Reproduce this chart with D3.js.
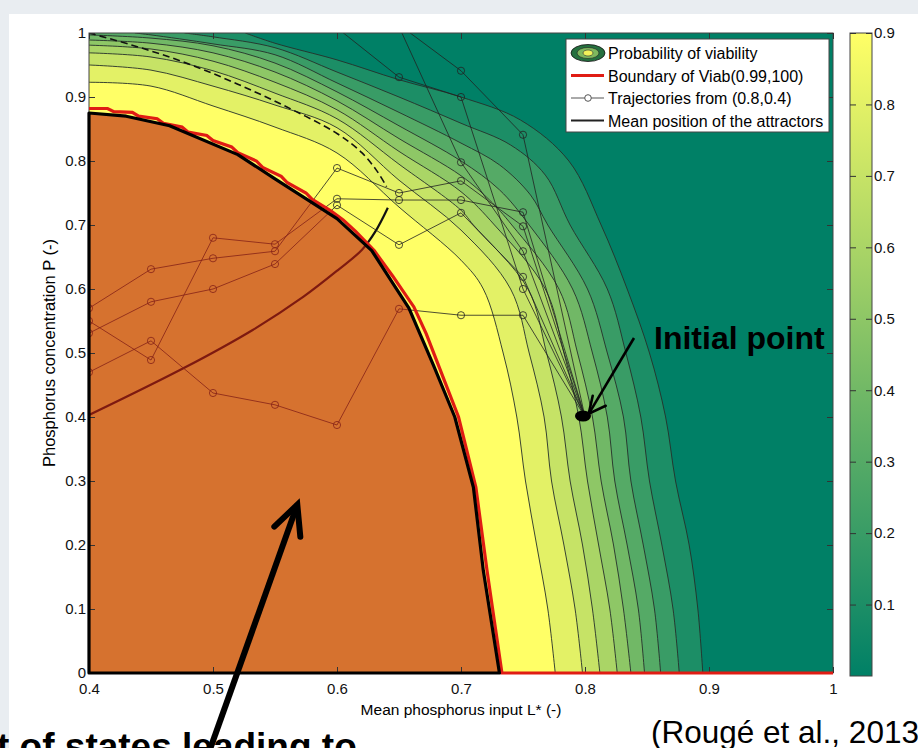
<!DOCTYPE html>
<html>
<head>
<meta charset="utf-8">
<script src="https://cdn.jsdelivr.net/npm/d3@7/dist/d3.min.js"></script>
<style>
  body { margin: 0; background: #ffffff; }
  svg text { font-family: "Liberation Sans", Arial, Helvetica, sans-serif; }
</style>
</head>
<body>
<div id="chart"></div>
<script>

// contour levels of the probability of viability and their lines, [L*, P]
var levels = [0.1, 0.2, 0.3, 0.4, 0.5, 0.6, 0.7, 0.8, 0.9];

var c10 = [[0.526,1],[0.55,0.984],[0.6,0.958],[0.65,0.927],[0.7,0.9],[0.748,0.864],[0.787,0.8],[0.813,0.7],[0.834,0.6],[0.852,0.5],[0.865,0.4],[0.873,0.3],[0.884,0.2],[0.891,0.1],[0.895,0]];
var c20 = [[0.477,1],[0.5,0.994],[0.55,0.977],[0.6,0.939],[0.65,0.90],[0.7,0.859],[0.74,0.825],[0.768,0.778],[0.788,0.7],[0.818,0.6],[0.833,0.5],[0.845,0.4],[0.852,0.3],[0.862,0.2],[0.871,0.1],[0.876,0]];
var c30 = [[0.437,1],[0.45,0.997],[0.5,0.983],[0.55,0.966],[0.6,0.922],[0.65,0.876],[0.7,0.828],[0.731,0.794],[0.756,0.747],[0.77,0.7],[0.802,0.6],[0.818,0.5],[0.831,0.4],[0.837,0.3],[0.847,0.2],[0.856,0.1],[0.861,0]];
var c40 = [[0.4,0.997],[0.45,0.992],[0.5,0.98],[0.55,0.953],[0.6,0.908],[0.65,0.855],[0.7,0.8],[0.731,0.755],[0.755,0.7],[0.79,0.6],[0.806,0.5],[0.818,0.4],[0.824,0.3],[0.834,0.2],[0.843,0.1],[0.848,0]];
var c50 = [[0.4,0.989],[0.45,0.984],[0.5,0.969],[0.55,0.939],[0.6,0.894],[0.65,0.835],[0.7,0.777],[0.723,0.739],[0.741,0.7],[0.779,0.6],[0.794,0.5],[0.806,0.4],[0.813,0.3],[0.823,0.2],[0.831,0.1],[0.837,0]];
var c60 = [[0.4,0.981],[0.45,0.975],[0.5,0.956],[0.55,0.923],[0.6,0.88],[0.65,0.815],[0.7,0.752],[0.727,0.7],[0.768,0.6],[0.783,0.5],[0.795,0.4],[0.802,0.3],[0.811,0.2],[0.82,0.1],[0.826,0]];
var c70 = [[0.4,0.969],[0.45,0.9625],[0.5,0.941],[0.55,0.906],[0.6,0.866],[0.65,0.795],[0.7,0.723],[0.71,0.7],[0.754,0.6],[0.769,0.5],[0.781,0.4],[0.788,0.3],[0.798,0.2],[0.806,0.1],[0.812,0]];
var c80 = [[0.4,0.95],[0.45,0.942],[0.5,0.917],[0.55,0.8875],[0.6,0.852],[0.65,0.77],[0.7,0.692],[0.74,0.6],[0.755,0.5],[0.767,0.4],[0.773,0.3],[0.783,0.2],[0.792,0.1],[0.798,0]];
var c90 = [[0.4,0.923],[0.45,0.917],[0.5,0.886],[0.55,0.853],[0.6,0.8125],[0.65,0.728],[0.7,0.645],[0.718,0.6],[0.734,0.5],[0.745,0.4],[0.752,0.3],[0.761,0.2],[0.77,0.1],[0.776,0]];
var contourLines = [c10, c20, c30, c40, c50, c60, c70, c80, c90];

// viability kernel (smoothed, black) and boundary of Viab(0.99,100) (red)
var kernel = [[0.4,0],[0.4,0.875],[0.43,0.870],[0.465,0.855],[0.52,0.81],[0.55,0.772],[0.60,0.71],[0.628,0.66],[0.658,0.57],[0.678,0.48],[0.695,0.40],[0.71,0.29],[0.718,0.16],[0.731,0]];
var viabBoundary = [[0.4,0.882],[0.415,0.882],[0.42,0.877],[0.435,0.876],[0.44,0.870],[0.455,0.866],[0.46,0.859],[0.475,0.853],[0.48,0.845],[0.495,0.840],[0.50,0.832],[0.515,0.822],[0.52,0.813],[0.535,0.800],[0.54,0.79],[0.555,0.776],[0.56,0.766],[0.575,0.750],[0.58,0.740],[0.595,0.722],[0.605,0.708],[0.615,0.69],[0.63,0.66],[0.645,0.62],[0.662,0.572],[0.672,0.53],[0.682,0.48],[0.698,0.40],[0.712,0.29],[0.721,0.16],[0.733,0],[1,0]];

var dashedLine = [[0.4,1.0],[0.44,0.978],[0.48,0.952],[0.52,0.92],[0.56,0.884],[0.60,0.843],[0.62,0.813],[0.632,0.785],[0.64,0.76]];
var meanAttractor = [[0.4,0.403],[0.478,0.478],[0.532,0.536],[0.573,0.588],[0.601,0.630],[0.620,0.661],[0.631,0.69],[0.641,0.727]];

// trajectories from the initial point, one P value per step of L*
var trajSteps = [0.8, 0.75, 0.7, 0.65, 0.6, 0.55, 0.5, 0.45, 0.4];
var traj1 = [0.4, 0.559, 0.559, 0.569, 0.3875, 0.419, 0.4375, 0.519, 0.47];
var traj2 = [0.4, 0.698, 0.769, 0.75, 0.789, 0.659, 0.648, 0.631, 0.57];
var traj3 = [0.4, 0.72, 0.739, 0.739, 0.741, 0.67, 0.68, 0.489, 0.55];
var traj4 = [0.4, 0.619, 0.719, 0.669, 0.731, 0.639, 0.6, 0.58, 0.531];
var traj5 = [0.4, 0.841, 0.941, 1.013];
var traj6 = [0.4, 0.6, 0.9, 0.931, 1.008];
var traj7 = [0.4, 0.659, 0.798, 1.01];
var trajectories = [traj1, traj2, traj3, traj4, traj5, traj6, traj7];
var initialPoint = [0.8, 0.4];

var xTicks = [0.4, 0.5, 0.6, 0.7, 0.8, 0.9, 1];
var yTicks = [0, 0.1, 0.2, 0.3, 0.4, 0.5, 0.6, 0.7, 0.8, 0.9, 1];
var cbTicks = [0.1, 0.2, 0.3, 0.4, 0.5, 0.6, 0.7, 0.8, 0.9];
var legendLabels = ["Probability of viability", "Boundary of Viab(0.99,100)", "Trajectories from (0.8,0.4)", "Mean position of the attractors"];

// annotation arrows, in data units
var pointArrow = [[0.8395, 0.5235], [0.803, 0.405]];
var kernelArrow = [[0.498, -0.117], [0.568, 0.263]];


var width = 918;
var height = 748;
var margin = {top: 33, right: 85, bottom: 75, left: 89};

var svg = d3.select("#chart")
  .append("svg")
  .attr("width", width)
  .attr("height", height);

// slide background
svg.append("rect").attr("width", width).attr("height", height).attr("fill", "#e9edf1");
svg.append("rect").attr("x", 9).attr("y", 14).attr("width", width - 9).attr("height", height - 14).attr("fill", "#ffffff");

var x = d3.scaleLinear().domain([0.4, 1]).range([margin.left, width - margin.right]);
var y = d3.scaleLinear().domain([0, 1]).range([height - margin.bottom, margin.top]);

// MATLAB "summer" colormap over the colorbar range
var color = d3.scaleLinear().domain([0, 0.9]).range(["rgb(0,128,102)", "rgb(255,255,102)"]).clamp(true);

var defs = svg.append("defs");
defs.append("clipPath").attr("id", "plotclip")
  .append("rect")
  .attr("x", x(0.4)).attr("y", y(1))
  .attr("width", x(1) - x(0.4)).attr("height", y(0) - y(1));

var grad = defs.append("linearGradient").attr("id", "cbgrad")
  .attr("x1", 0).attr("y1", 1).attr("x2", 0).attr("y2", 0);
grad.append("stop").attr("offset", "0%").attr("stop-color", color(0));
grad.append("stop").attr("offset", "100%").attr("stop-color", color(0.9));

var smooth = d3.line()
  .x(function(d) { return x(d[0]); })
  .y(function(d) { return y(d[1]); })
  .curve(d3.curveCatmullRom.alpha(0.5));

var straight = d3.line()
  .x(function(d) { return x(d[0]); })
  .y(function(d) { return y(d[1]); });

var plot = svg.append("g").attr("clip-path", "url(#plotclip)");

// filled contours
plot.append("rect")
  .attr("x", x(0.4)).attr("y", y(1))
  .attr("width", x(1) - x(0.4)).attr("height", y(0) - y(1))
  .attr("fill", color(0));

plot.selectAll(".band")
  .data(contourLines)
  .enter()
  .append("path")
  .attr("class", "band")
  .attr("d", function(d) {
    return smooth(d) + "L" + x(0.4) + "," + y(0) + "L" + x(0.4) + "," + y(1) + "Z";
  })
  .attr("fill", function(d, i) { return color(levels[i]); });

plot.selectAll(".cline")
  .data(contourLines)
  .enter()
  .append("path")
  .attr("class", "cline")
  .attr("d", smooth)
  .attr("fill", "none")
  .attr("stroke", "#26302a")
  .attr("stroke-width", 0.9);

plot.append("path")
  .attr("d", smooth(dashedLine))
  .attr("fill", "none")
  .attr("stroke", "#111")
  .attr("stroke-width", 1.6)
  .attr("stroke-dasharray", "7,4");

plot.append("path")
  .attr("d", smooth(meanAttractor))
  .attr("fill", "none")
  .attr("stroke", "#111")
  .attr("stroke-width", 2.2);

// trajectories
trajectories.forEach(function(t) {
  var pts = t.map(function(p, i) { return [trajSteps[i], p]; });
  plot.append("path")
    .attr("d", straight(pts))
    .attr("fill", "none")
    .attr("stroke", "#222")
    .attr("stroke-width", 0.8);
  plot.selectAll(null)
    .data(pts.slice(1))
    .enter()
    .append("circle")
    .attr("cx", function(d) { return x(d[0]); })
    .attr("cy", function(d) { return y(d[1]); })
    .attr("r", 3.6)
    .attr("fill", "none")
    .attr("stroke", "#222")
    .attr("stroke-width", 0.8);
});

// viability kernel, translucent red over the yellow
plot.append("path")
  .attr("d", straight(kernel) + "Z")
  .attr("fill", "rgb(190,32,16)")
  .attr("fill-opacity", 0.63);

// box and ticks
var axisColor = "#333";
svg.append("rect")
  .attr("x", x(0.4)).attr("y", y(1))
  .attr("width", x(1) - x(0.4)).attr("height", y(0) - y(1))
  .attr("fill", "none")
  .attr("stroke", "#444")
  .attr("stroke-width", 1);

var fmt = function(d) { return String(+d.toFixed(1)); };

var gx = svg.append("g")
  .attr("transform", "translate(0," + y(0) + ")")
  .call(d3.axisBottom(x).tickValues(xTicks).tickFormat(fmt).tickSize(-6).tickPadding(10));
var gy = svg.append("g")
  .attr("transform", "translate(" + x(0.4) + ",0)")
  .call(d3.axisLeft(y).tickValues(yTicks).tickFormat(fmt).tickSize(-6).tickPadding(3));
svg.append("g")
  .attr("transform", "translate(0," + y(1) + ")")
  .call(d3.axisTop(x).tickValues(xTicks).tickFormat("").tickSize(-6));
svg.append("g")
  .attr("transform", "translate(" + x(1) + ",0)")
  .call(d3.axisRight(y).tickValues(yTicks).tickFormat("").tickSize(-6));

svg.selectAll(".domain").remove();
svg.selectAll(".tick line").attr("stroke", axisColor);
svg.selectAll(".tick text").attr("fill", "#111").style("font-size", "15px");

// boundaries on top
svg.append("path")
  .attr("d", straight(viabBoundary))
  .attr("fill", "none")
  .attr("stroke", "#e01c14")
  .attr("stroke-width", 3.2);

svg.append("path")
  .attr("d", straight(kernel) + "Z")
  .attr("fill", "none")
  .attr("stroke", "#000")
  .attr("stroke-width", 3.2)
  .attr("stroke-linejoin", "round");

// initial point
svg.append("ellipse")
  .attr("cx", x(initialPoint[0]) - 2)
  .attr("cy", y(initialPoint[1]) - 1)
  .attr("rx", 8)
  .attr("ry", 5.5)
  .attr("fill", "#000");

// axis labels
svg.append("text")
  .attr("x", (x(0.4) + x(1)) / 2)
  .attr("y", 715)
  .attr("text-anchor", "middle")
  .style("font-size", "15.5px")
  .text("Mean phosphorus input L* (-)");

svg.append("text")
  .attr("transform", "translate(55," + y(0.5) + ") rotate(-90)")
  .attr("text-anchor", "middle")
  .style("font-size", "16.5px")
  .text("Phosphorus concentration P (-)");

// colorbar
var cbX = 850, cbW = 22;
var cb = d3.scaleLinear().domain([0, 0.9]).range([676, 33]);
svg.append("rect")
  .attr("x", cbX).attr("y", cb(0.9))
  .attr("width", cbW).attr("height", cb(0) - cb(0.9))
  .attr("fill", "url(#cbgrad)")
  .attr("stroke", "#444")
  .attr("stroke-width", 1);
var gcb = svg.append("g")
  .attr("transform", "translate(" + (cbX + cbW) + ",0)")
  .call(d3.axisRight(cb).tickValues(cbTicks).tickFormat(fmt).tickSize(-6).tickPadding(2));
svg.append("g")
  .attr("transform", "translate(" + cbX + ",0)")
  .call(d3.axisLeft(cb).tickValues(cbTicks).tickFormat("").tickSize(-6));
svg.selectAll(".domain").remove();
svg.selectAll(".tick line").attr("stroke", axisColor);
gcb.selectAll(".tick text").attr("fill", "#111").style("font-size", "15px");

// legend
var lg = svg.append("g");
lg.append("rect")
  .attr("x", 566).attr("y", 39).attr("width", 263).attr("height", 93)
  .attr("fill", "#fff").attr("stroke", "#444").attr("stroke-width", 1);
var rowY = [53, 75.5, 98, 120.5];
lg.selectAll("text")
  .data(legendLabels)
  .enter()
  .append("text")
  .attr("x", 608)
  .attr("y", function(d, i) { return rowY[i] + 6; })
  .style("font-size", "16px")
  .attr("fill", "#000")
  .text(function(d) { return d; });
lg.append("ellipse").attr("cx", 588).attr("cy", rowY[0]).attr("rx", 17).attr("ry", 8.5)
  .attr("fill", "#25703f").attr("stroke", "#111").attr("stroke-width", 0.8);
lg.append("ellipse").attr("cx", 588).attr("cy", rowY[0]).attr("rx", 11).attr("ry", 5.5)
  .attr("fill", "#7fb85e").attr("stroke", "#222").attr("stroke-width", 0.6);
lg.append("ellipse").attr("cx", 588).attr("cy", rowY[0]).attr("rx", 5).attr("ry", 3)
  .attr("fill", "#f2f25a").attr("stroke", "#333").attr("stroke-width", 0.6);
lg.append("line").attr("x1", 571).attr("x2", 604).attr("y1", rowY[1]).attr("y2", rowY[1])
  .attr("stroke", "#e01c14").attr("stroke-width", 3.2);
lg.append("line").attr("x1", 571).attr("x2", 604).attr("y1", rowY[2]).attr("y2", rowY[2])
  .attr("stroke", "#555").attr("stroke-width", 1);
lg.append("circle").attr("cx", 588).attr("cy", rowY[2]).attr("r", 3.3)
  .attr("fill", "#fff").attr("stroke", "#555").attr("stroke-width", 1);
lg.append("line").attr("x1", 571).attr("x2", 604).attr("y1", rowY[3]).attr("y2", rowY[3])
  .attr("stroke", "#222").attr("stroke-width", 1.8);

// annotations
function arrow(a, wings, w) {
  var x0 = x(a[0][0]), y0 = y(a[0][1]), x1 = x(a[1][0]), y1 = y(a[1][1]);
  svg.append("line")
    .attr("x1", x0).attr("y1", y0).attr("x2", x1).attr("y2", y1)
    .attr("stroke", "#000").attr("stroke-width", w);
  svg.append("path")
    .attr("d", "M" + (x1 + wings[0][0]) + "," + (y1 + wings[0][1]) + "L" + x1 + "," + y1 + "L" + (x1 + wings[1][0]) + "," + (y1 + wings[1][1]))
    .attr("fill", "none").attr("stroke", "#000").attr("stroke-width", w)
    .attr("stroke-linecap", "round").attr("stroke-linejoin", "miter");
}
arrow(pointArrow, [[17, -8], [4, -18]], 2.6);
arrow(kernelArrow, [[-23, 22], [3, 32]], 6);

svg.append("text")
  .attr("x", 654).attr("y", 349)
  .style("font-size", "32px").style("font-weight", "bold")
  .text("Initial point");

svg.append("text")
  .attr("x", 651).attr("y", 743)
  .style("font-size", "31.5px")
  .text("(Rougé et al., 2013)");

svg.append("text")
  .attr("x", -3).attr("y", 759)
  .style("font-size", "37px").style("font-weight", "bold")
  .text("t of states leading to");

</script>
</body>
</html>
